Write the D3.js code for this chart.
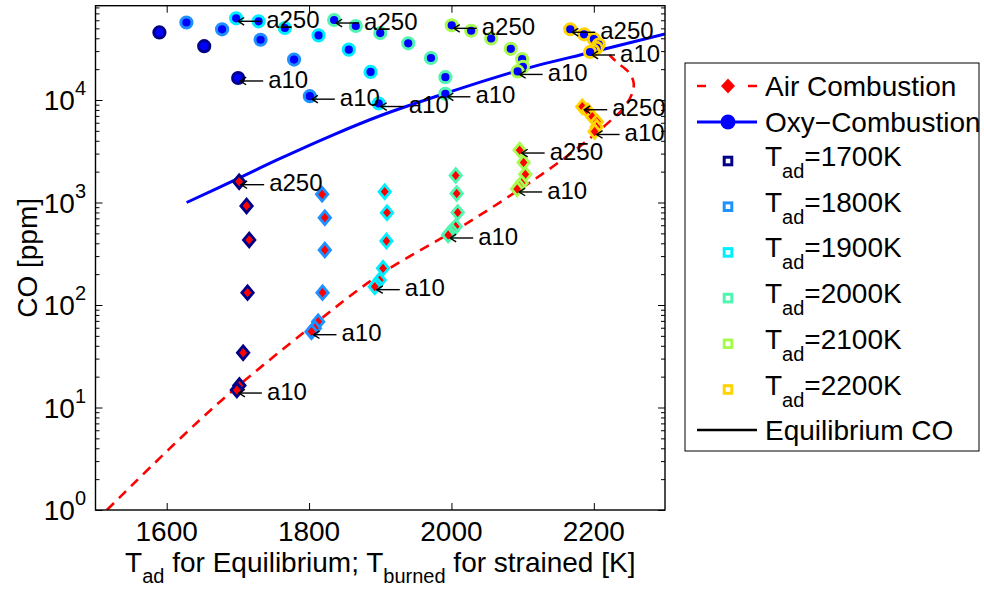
<!DOCTYPE html>
<html>
<head>
<meta charset="utf-8">
<script src="https://cdn.jsdelivr.net/npm/d3@7"></script>
<style>
  body { margin: 0; background: #fff; }
  text { font-family: "Liberation Sans", Arial, Helvetica, sans-serif; fill: #000; }
</style>
</head>
<body>
<svg id="chart" width="984" height="590"></svg>
<script>
// ---- Data -------------------------------------------------------------
// Adiabatic flame temperature of each strained-flame case (K)
const tadCases = [1700, 1800, 1900, 2000, 2100, 2200];

// Oxy-combustion strained flames: [T_burned (K), CO (ppm)], strain a250 -> a10
const oxy1700 = [[1589.8, 45600], [1652.7, 33500], [1700.4, 16400]];
const oxy1800 = [[1627.7, 57000], [1677.8, 48900], [1731.9, 38700], [1778.9, 24800], [1801.1, 10900]];
const oxy1900 = [[1697.6, 62700], [1729.1, 58600], [1766.0, 50400], [1813.3, 42700], [1855.8, 31000], [1886.4, 18800], [1897.9, 9240]];
const oxy2000 = [[1835.2, 60300], [1865.6, 52700], [1900.0, 45000], [1939.3, 35700], [1971.2, 25700], [1991.5, 16700], [1991.5, 11500]];
const oxy2100 = [[2000.4, 53500], [2027.7, 47400], [2055.8, 39800], [2083.4, 31600], [2099.3, 25000], [2100.4, 21100], [2093.0, 19000]];
const oxy2200 = [[2166.9, 49000], [2186.3, 43700], [2200.1, 39200], [2206.9, 34800], [2203.9, 32200], [2199.0, 30400], [2194.7, 29400]];

// Air-combustion strained flames: [T_burned (K), CO (ppm)], strain a250 -> a10
const air1700 = [[1701.8, 1596], [1712.2, 925], [1715.9, 431], [1713.6, 132], [1707.4, 34.2], [1702.1, 16.4], [1698.6, 14.8]];
const air1800 = [[1818.3, 1202], [1822.1, 711], [1822.1, 344], [1818.9, 132], [1812.7, 68.7], [1808.1, 59.3], [1803.4, 54.9]];
const air1900 = [[1906.3, 1275], [1909.5, 795], [1908.7, 421], [1903.9, 228], [1899.3, 175], [1894.7, 159], [1892.3, 151]];
const air2000 = [[2006.0, 1834], [2007.4, 1224], [2008.8, 799], [2006.0, 583], [2000.4, 527], [1997.5, 504], [1995.4, 482]];
const air2100 = [[2095.8, 3250], [2101.4, 2456], [2103.8, 1884], [2098.6, 1550], [2095.1, 1432], [2092.3, 1355]];
const air2200 = [[2183.8, 8600], [2191.6, 7810], [2197.8, 6870], [2204.3, 6140], [2203.9, 5450], [2201.1, 4930]];

// Equilibrium CO versus adiabatic flame temperature
const airEqT  = [1516, 1665, 1801, 1899, 2030, 2156, 2222, 2243, 2254, 2256, 2250, 2232, 2222];
const airEqCO = [1.0, 9.9, 60, 197, 680, 2620, 6150, 8550, 11700, 14650, 18300, 23500, 27500];
const oxyEqT  = [1628, 1700, 1755, 1830, 1899, 1993, 2092, 2198, 2300];
const oxyEqCO = [1000, 1710, 2600, 4450, 6980, 11700, 19200, 29400, 44000];

// Cases that carry a label on their highest-strain point
const oxyHighLabelled = [1900, 2000, 2100, 2200];
const airHighLabelled = [1700, 2100, 2200];
const strainHigh = "a250";
const strainLow = "a10";

// Axes
const xDomain = [1500, 2300];
const xTicks = [1600, 1800, 2000, 2200];
const yDomain = [1, Math.pow(10, 4.92)];
const yMajor = [1, 10, 100, 1000, 10000];
const yExponents = ["0", "1", "2", "3", "4"];

const legendNames = ["Air Combustion", "Oxy\u2212Combustion", "Equilibrium CO"];

// ---- Styling ----------------------------------------------------------
const caseColors = ["#000088", "#1E90FF", "#00EEFF", "#50F5B0", "#A8FA50", "#FFD400"];
const FONT = 28, SUB = 20, ANNO = 24;

// ---- Layout -----------------------------------------------------------
const svg = d3.select("#chart");
const X0 = 95.5, X1 = 665, Y0 = 510, Y1 = 5.7;
const x = d3.scaleLinear().domain(xDomain).range([X0, X1]);
const y = d3.scaleLog().domain(yDomain).range([Y0, Y1]);

svg.append("defs").append("clipPath").attr("id", "plotclip")
  .append("rect").attr("x", X0).attr("y", Y1).attr("width", X1 - X0).attr("height", Y0 - Y1);

// minor log ticks 2..9 per decade
const yMinor = [];
for (let k = 0; k < 5; k++) {
  for (let m = 2; m <= 9; m++) {
    const v = m * Math.pow(10, k);
    if (v < yDomain[1]) yMinor.push(v);
  }
}

function cleanAxis(g) {
  g.select(".domain").remove();
  g.selectAll("line").attr("stroke", "#000").attr("stroke-width", 1);
  g.selectAll("text").remove();
}
svg.append("g").attr("transform", `translate(0,${Y0})`)
  .call(d3.axisBottom(x).tickValues(xTicks).tickSize(-7)).call(cleanAxis);
svg.append("g").attr("transform", `translate(0,${Y1})`)
  .call(d3.axisTop(x).tickValues(xTicks).tickSize(-7)).call(cleanAxis);
svg.append("g").attr("transform", `translate(${X0},0)`)
  .call(d3.axisLeft(y).tickValues(yMajor).tickSize(-7)).call(cleanAxis);
svg.append("g").attr("transform", `translate(${X0},0)`)
  .call(d3.axisLeft(y).tickValues(yMinor).tickSize(-4)).call(cleanAxis);
svg.append("g").attr("transform", `translate(${X1},0)`)
  .call(d3.axisRight(y).tickValues(yMajor).tickSize(-7)).call(cleanAxis);
svg.append("g").attr("transform", `translate(${X1},0)`)
  .call(d3.axisRight(y).tickValues(yMinor).tickSize(-4)).call(cleanAxis);

// tick labels
svg.append("g").selectAll("text").data(xTicks).join("text")
  .attr("x", d => x(d)).attr("y", 541).attr("text-anchor", "middle")
  .attr("font-size", FONT).text(d => d);

const yl = svg.append("g").selectAll("text").data(yMajor).join("text")
  .attr("x", 86).attr("y", d => y(d) + 10).attr("text-anchor", "end")
  .attr("font-size", FONT);
yl.append("tspan").text("10");
yl.append("tspan").attr("font-size", SUB).attr("dy", -15).text((d, i) => yExponents[i]);

// axis titles
svg.append("text").attr("transform", `translate(37,${(Y0 + Y1) / 2}) rotate(-90)`)
  .attr("text-anchor", "middle").attr("font-size", FONT).text("CO [ppm]");

const xt = svg.append("text").attr("x", (X0 + X1) / 2).attr("y", 572)
  .attr("text-anchor", "middle").attr("font-size", FONT);
xt.append("tspan").text("T");
xt.append("tspan").attr("font-size", SUB).attr("dy", 11).text("ad");
xt.append("tspan").attr("dy", -11).text(" for Equilibrium; T");
xt.append("tspan").attr("font-size", SUB).attr("dy", 11).text("burned");
xt.append("tspan").attr("dy", -11).text(" for strained [K]");

// ---- Plot content -----------------------------------------------------
const plot = svg.append("g").attr("clip-path", "url(#plotclip)");

const eqLine = d3.line().x(d => x(d[0])).y(d => y(d[1])).curve(d3.curveCatmullRom.alpha(0.5));
plot.append("path").datum(airEqT.map((t, i) => [t, airEqCO[i]]))
  .attr("d", eqLine).attr("fill", "none").attr("stroke", "#ff0000")
  .attr("stroke-width", 2.6).attr("stroke-dasharray", "10,7");
plot.append("path").datum(oxyEqT.map((t, i) => [t, oxyEqCO[i]]))
  .attr("d", eqLine).attr("fill", "none").attr("stroke", "#0000ff")
  .attr("stroke-width", 3);

function diamondPath(w, h) {
  return `M0,${-h}L${w},0L0,${h}L${-w},0Z`;
}

const oxyGroups = [oxy1700, oxy1800, oxy1900, oxy2000, oxy2100, oxy2200];
const airGroups = [air1700, air1800, air1900, air2000, air2100, air2200];

airGroups.forEach((grp, gi) => {
  plot.append("g").selectAll("path").data(grp).join("path")
    .attr("transform", d => `translate(${x(d[0])},${y(d[1])})`)
    .attr("d", diamondPath(5.7, 6.8))
    .attr("fill", "#ff0000").attr("stroke", caseColors[gi]).attr("stroke-width", 2.8);
});
oxyGroups.forEach((grp, gi) => {
  plot.append("g").selectAll("circle").data(grp).join("circle")
    .attr("cx", d => x(d[0])).attr("cy", d => y(d[1])).attr("r", 5.6)
    .attr("fill", "#0000ff").attr("stroke", caseColors[gi]).attr("stroke-width", 3);
});

// strain-rate labels with arrows pointing at the marker
const anno = svg.append("g");
function annotate(pt, label) {
  const px = x(pt[0]), py = y(pt[1]);
  const g = anno.append("g").attr("stroke", "#000").attr("stroke-width", 1.4).attr("fill", "none");
  g.append("line").attr("x1", px + 25).attr("y1", py + 3).attr("x2", px + 2).attr("y2", py + 3);
  g.append("path").attr("d", `M${px + 8},${py - 0.8}L${px + 2},${py + 3}L${px + 8},${py + 6.8}`);
  anno.append("text").attr("x", px + 30).attr("y", py + 9.6)
    .attr("font-size", ANNO).text(label);
}
oxyGroups.forEach((grp, gi) => {
  if (oxyHighLabelled.includes(tadCases[gi])) annotate(grp[0], strainHigh);
  annotate(grp[grp.length - 1], strainLow);
});
airGroups.forEach((grp, gi) => {
  if (airHighLabelled.includes(tadCases[gi])) annotate(grp[0], strainHigh);
  annotate(grp[grp.length - 1], strainLow);
});

// plot frame
svg.append("rect").attr("x", X0).attr("y", Y1).attr("width", X1 - X0).attr("height", Y0 - Y1)
  .attr("fill", "none").attr("stroke", "#000").attr("stroke-width", 1.4);

// ---- Legend -----------------------------------------------------------
const LX = 685, LY = 63, LW = 294, LH = 388;
const leg = svg.append("g");
leg.append("rect").attr("x", LX).attr("y", LY).attr("width", LW).attr("height", LH)
  .attr("fill", "#fff").attr("stroke", "#000").attr("stroke-width", 1);

const sx0 = 697, sx1 = 757, smid = 728, tx = 765;

// air combustion entry
leg.append("line").attr("x1", sx0).attr("x2", sx1).attr("y1", 86).attr("y2", 86)
  .attr("stroke", "#ff0000").attr("stroke-width", 2.6).attr("stroke-dasharray", "9,42");
leg.append("path").attr("transform", `translate(${smid},86)`).attr("d", diamondPath(7, 7.5))
  .attr("fill", "#ff0000");
leg.append("text").attr("x", tx).attr("y", 96).attr("font-size", FONT).text(legendNames[0]);

// oxy-combustion entry
leg.append("line").attr("x1", sx0).attr("x2", sx1).attr("y1", 122).attr("y2", 122)
  .attr("stroke", "#0000ff").attr("stroke-width", 3);
leg.append("circle").attr("cx", smid).attr("cy", 122).attr("r", 7.5).attr("fill", "#0000ff");
leg.append("text").attr("x", tx).attr("y", 132).attr("font-size", FONT).text(legendNames[1]);

// temperature cases
const caseRows = leg.selectAll("g.case").data(tadCases).join("g").attr("class", "case")
  .attr("transform", (d, i) => `translate(0,${161 + i * 45.7})`);
caseRows.append("rect").attr("x", smid - 3.8).attr("y", -3.8).attr("width", 7.6).attr("height", 7.6)
  .attr("fill", "#fff").attr("stroke", (d, i) => caseColors[i]).attr("stroke-width", 3);
const ct = caseRows.append("text").attr("x", tx).attr("y", 5).attr("font-size", FONT);
ct.append("tspan").text("T");
ct.append("tspan").attr("font-size", SUB).attr("dy", 12).text("ad");
ct.append("tspan").attr("dy", -12).text(d => `=${d}K`);

// equilibrium entry
leg.append("line").attr("x1", sx0).attr("x2", sx1).attr("y1", 430).attr("y2", 430)
  .attr("stroke", "#000").attr("stroke-width", 2.6);
leg.append("text").attr("x", tx).attr("y", 440).attr("font-size", FONT).text(legendNames[2]);
</script>
</body>
</html>
